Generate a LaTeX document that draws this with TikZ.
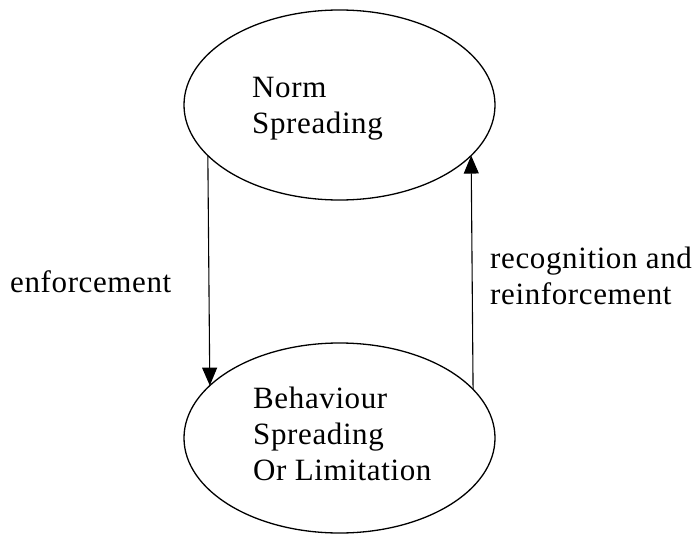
\documentclass[tikz,border=0pt]{standalone}
\usepackage{fontspec}
\setmainfont[LetterSpace=2]{Liberation Serif}
\usetikzlibrary{shapes.geometric,arrows.meta}
\begin{document}
\begin{tikzpicture}[x=1pt,y=-1pt,
  stateshape/.style={ellipse, draw, line width=1.3pt, minimum width=311pt, minimum height=190pt, inner sep=0pt, outer sep=0pt},
  lbl/.style={anchor=base west, inner sep=0pt, font=\fontsize{31}{36}\selectfont},
  conn/.style={line width=1.1pt, -{Triangle[length=18pt,width=15pt]}}]
\useasboundingbox (0,0) rectangle (694,535);
\node[stateshape] (norm) at (339.5,105) {};
\node[stateshape] (behav) at (339.5,438) {};
\node[lbl] (normtext) at (252,97) {\begin{tabular}[t]{@{}l@{}}Norm\\Spreading\end{tabular}};
\node[lbl] (behavtext) at (253,408) {\begin{tabular}[t]{@{}l@{}}Behaviour\\Spreading\\Or Limitation\end{tabular}};
\node[lbl] (enf) at (10,292) {enforcement};
\node[lbl] (rec) at (490,268) {\begin{tabular}[t]{@{}l@{}}recognition and\\reinforcement\end{tabular}};
\draw[conn] (norm.201.6) -- (behav.158.4);
\draw[conn] (behav.20.05) -- (norm.339.95);
\end{tikzpicture}
\end{document}
